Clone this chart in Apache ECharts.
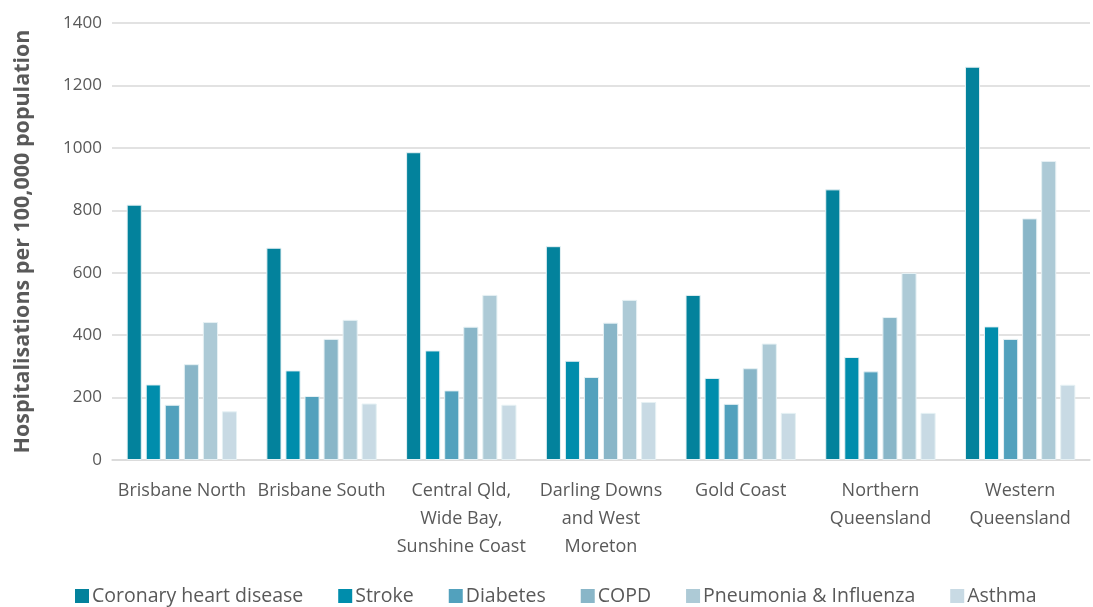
<!DOCTYPE html>
<html>
<head>
<meta charset="utf-8">
<script src="https://cdn.jsdelivr.net/npm/echarts@6/dist/echarts.min.js"></script>
<style>
  html, body { margin: 0; padding: 0; background: #fff; }
  #chart { width: 1093px; height: 607px; }
</style>
</head>
<body>
<div id="chart"></div>
<script>
// Hospital and Health Service regions
const regions = [
  'Brisbane North',
  'Brisbane South',
  'Central Qld,\nWide Bay,\nSunshine Coast',
  'Darling Downs\nand West\nMoreton',
  'Gold Coast',
  'Northern\nQueensland',
  'Western\nQueensland'
];

// Hospitalisations per 100,000 population, by condition
const coronaryHeartDisease = [818, 680, 986, 685, 529, 867, 1260];
const stroke               = [242, 287, 351, 318, 263, 330, 428];
const diabetes             = [177, 205, 223, 266, 180, 284, 388];
const copd                 = [307, 388, 427, 440, 294, 458, 774];
const pneumoniaInfluenza   = [442, 449, 529, 513, 373, 599, 958];
const asthma               = [156, 181, 177, 186, 151, 151, 241];

const yTicks = [0, 200, 400, 600, 800, 1000, 1200, 1400];

const seriesDefs = [
  { name: 'Coronary heart disease', data: coronaryHeartDisease, color: '#03829C' },
  { name: 'Stroke',                 data: stroke,               color: '#008DAC' },
  { name: 'Diabetes',               data: diabetes,             color: '#52A1BD' },
  { name: 'COPD',                   data: copd,                 color: '#89B6C8' },
  { name: 'Pneumonia & Influenza',  data: pneumoniaInfluenza,   color: '#ADCAD6' },
  { name: 'Asthma',                 data: asthma,               color: '#C8DAE4' }
];

const FONT = '"Open Sans", "Noto Sans", sans-serif';
const TEXT = '#595959';

const chart = echarts.init(document.getElementById('chart'), null, { renderer: 'canvas' });

chart.setOption({
  animation: false,
  textStyle: { fontFamily: FONT },
  grid: { left: 112, right: 3, top: 23, bottom: 147, containLabel: false },
  legend: {
    top: 586,
    left: 75,
    padding: 0,
    itemWidth: 14,
    itemHeight: 14,
    itemGap: 35,
    icon: 'rect',
    itemStyle: { borderWidth: 0 },
    textStyle: { fontSize: 19.5, color: TEXT, fontFamily: FONT, padding: [0, 0, 0, -2] },
    data: seriesDefs.map(s => s.name)
  },
  xAxis: {
    type: 'category',
    data: regions,
    axisLine: { show: true, lineStyle: { color: '#D9D9D9', width: 1.5 } },
    axisTick: { show: false },
    axisLabel: {
      interval: 0,
      fontSize: 18,
      color: TEXT,
      lineHeight: 28,
      margin: 17,
      fontFamily: FONT
    }
  },
  yAxis: {
    type: 'value',
    min: yTicks[0],
    max: yTicks[yTicks.length - 1],
    interval: 200,
    name: 'Hospitalisations per 100,000 population',
    nameLocation: 'middle',
    nameGap: 78,
    nameTextStyle: { fontSize: 21.5, fontWeight: 'bold', color: TEXT, fontFamily: FONT },
    axisLine: { show: false },
    axisTick: { show: false },
    axisLabel: { fontSize: 17, color: TEXT, margin: 10, fontFamily: FONT, formatter: v => String(v) },
    splitLine: { lineStyle: { color: '#D9D9D9', width: 1.5 } }
  },
  series: seriesDefs.map(s => ({
    name: s.name,
    type: 'bar',
    data: s.data,
    barGap: '26%',
    barCategoryGap: '21%',
    itemStyle: { color: s.color, borderColor: '#E6F1F4', borderWidth: 1 }
  }))
});
</script>
</body>
</html>
